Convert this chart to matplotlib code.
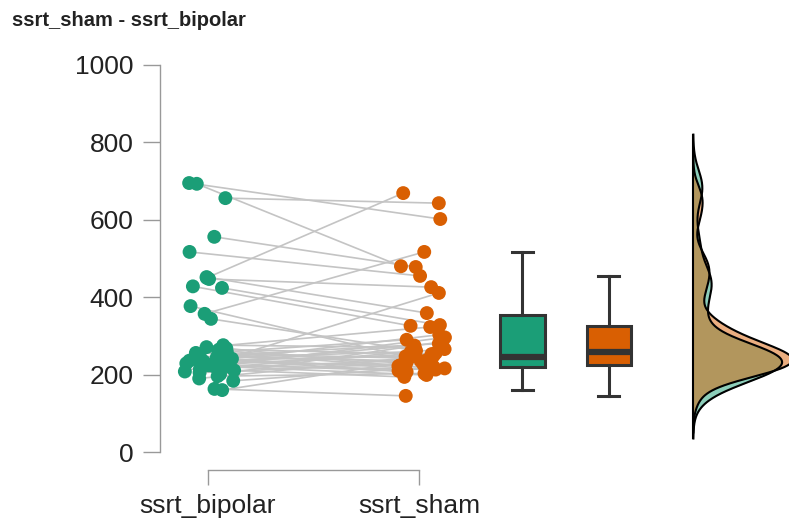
import numpy as np
from matplotlib import pyplot as plt

plt.rcParams['font.family'] = ['Liberation Sans', 'DejaVu Sans']

# paired observations, one entry per subject
ssrt_bipolar = [695, 693, 656, 556, 517, 450, 447, 428, 424, 377, 357, 344, 452, 163, 160,
                184, 190, 196, 201, 205, 208, 211, 214, 217, 220, 221, 224, 227, 229, 232,
                234, 236, 239, 241, 243, 244, 247, 250, 253, 256, 259, 262, 265, 268, 271, 276]
ssrt_sham = [602, 480, 643, 478, 455, 669, 426, 326, 328, 244, 517, 262, 359, 145, 232,
             220, 250, 203, 285, 229, 411, 194, 266, 238, 199, 296, 213, 256, 210, 275,
             224, 247, 207, 303, 218, 259, 235, 280, 216, 241, 290, 226, 253, 222, 323, 270]

labels = ["ssrt_bipolar", "ssrt_sham"]
colors = ["#1b9e77", "#d95f02"]
title = "ssrt_sham - ssrt_bipolar"


def r_density(x):
    # same as R's density(): nrd0 bandwidth, cut = 3
    x = np.asarray(x, dtype=float)
    n = len(x)
    q75, q25 = np.percentile(x, [75, 25])
    bw = 0.9 * min(x.std(ddof=1), (q75 - q25) / 1.34) * n ** -0.2
    grid = np.linspace(x.min() - 3 * bw, x.max() + 3 * bw, 512)
    dens = np.exp(-0.5 * ((grid[:, None] - x[None, :]) / bw) ** 2).sum(axis=1)
    dens /= n * bw * np.sqrt(2 * np.pi)
    return grid, dens


fig = plt.figure(figsize=(7.89, 5.27), dpi=100)
ax = fig.add_axes([160 / 789, 1 - 470 / 527, 1 - 160 / 789, (470 - 65) / 527])

groups = [np.array(ssrt_bipolar), np.array(ssrt_sham)]
pos = [1, 2]

# jitter for the points
rng = np.random.default_rng(3)
jit = [rng.uniform(-0.11, 0.13, len(g)) for g in groups]
xs = [pos[i] + jit[i] for i in range(2)]

# subject lines
for k in range(len(ssrt_bipolar)):
    ax.plot([xs[0][k], xs[1][k]], [groups[0][k], groups[1][k]],
            color="#c4c4c4", lw=1.2, zorder=1)

for i in range(2):
    ax.scatter(xs[i], groups[i], s=100, color=colors[i], edgecolors="none", zorder=3)

# boxes
bp = ax.boxplot(groups, positions=[2.49, 2.90], widths=0.21, showfliers=False,
                patch_artist=True, capwidths=0.1,
                boxprops=dict(color="#333333", lw=2.2),
                whiskerprops=dict(color="#333333", lw=2.2),
                capprops=dict(color="#333333", lw=2.2),
                medianprops=dict(color="#333333", lw=4.5))
for patch, c in zip(bp["boxes"], colors):
    patch.set_facecolor(c)

# densities
base = 3.30
dens = [r_density(g) for g in groups]
dmax = max(d[1].max() for d in dens)
scale = 0.47 / dmax
for (grid, d), c in zip(dens, colors):
    ax.fill_betweenx(grid, base, base + d * scale, color=c, alpha=0.5, lw=0, zorder=2)
    ax.plot(base + d * scale, grid, color="black", lw=1.5, zorder=4)
lo = min(d[0].min() for d in dens)
hi = max(d[0].max() for d in dens)
ax.plot([base, base], [lo, hi], color="black", lw=1.5, zorder=5)

ax.set_xlim(1 - 48 / 211, 1 + 581 / 211)
ax.set_ylim(-(470 - 452) / 0.387, 1000)

ax.set_yticks([0, 200, 400, 600, 800, 1000])
ax.set_xticks(pos)
ax.set_xticklabels(labels)
ax.tick_params(axis="y", length=12, width=1, color="#999999", pad=7,
               labelsize=19, labelcolor="#222222")
ax.tick_params(axis="x", length=11, width=1, color="#999999", pad=6,
               labelsize=19, labelcolor="#222222")

for s in ["top", "right"]:
    ax.spines[s].set_visible(False)
ax.spines["left"].set_bounds(0, 1000)
ax.spines["bottom"].set_bounds(1, 2)
for s in ["left", "bottom"]:
    ax.spines[s].set_color("#999999")
    ax.spines[s].set_linewidth(1)

fig.text(12 / 789, 1 - 20 / 527, title, fontsize=14.5, fontweight="bold",
         va="center", ha="left", color="#222222")

fig.savefig("out.png", dpi=100)
